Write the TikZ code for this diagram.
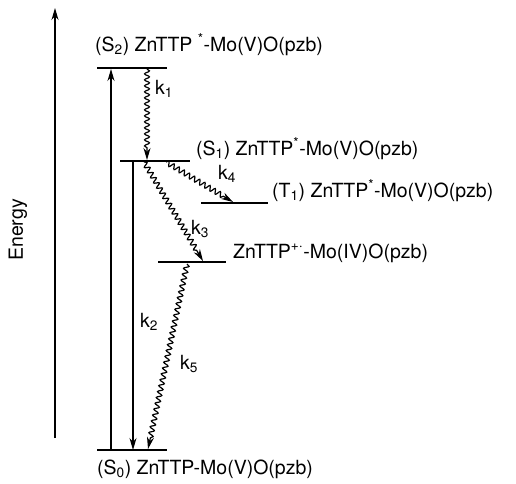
\documentclass[tikz,border=0pt]{standalone}
\usepackage{fontspec}
\setmainfont{TeX Gyre Heros}
\usetikzlibrary{decorations.pathmorphing,arrows.meta}
\begin{document}
\begin{tikzpicture}[x=1pt,y=-1pt,
  level/.style={line width=1.8pt},
  arr/.style={line width=1.2pt,-{Stealth[length=12pt,width=7pt]}},
  wav/.style={line width=1.2pt,-{Stealth[length=12pt,width=7pt]},
    decorate,decoration={snake,segment length=6pt,amplitude=2.5pt,post length=10pt}},
  lab/.style={font=\fontsize{19.5}{22}\selectfont,inner sep=0pt,anchor=base west},
  klab/.style={font=\fontsize{19.5}{22}\selectfont,inner sep=0pt}]
\useasboundingbox (0,0) rectangle (516,483);
% energy axis
\coordinate (eb) at (55,438);
\coordinate (et) at (55,8);
\draw[arr] (eb) -- (et);
\node[klab,rotate=90] (energy) at (18,230) {Energy};
% levels
\coordinate (s2l) at (97,68);  \coordinate (s2r) at (167,68);
\coordinate (s1l) at (120,161); \coordinate (s1r) at (190,161);
\coordinate (t1l) at (201,203); \coordinate (t1r) at (268,203);
\coordinate (ctl) at (158,262); \coordinate (ctr) at (226,262);
\coordinate (s0l) at (97,450);  \coordinate (s0r) at (167,450);
\draw[level] (s2l) -- (s2r);
\draw[level] (s1l) -- (s1r);
\draw[level] (t1l) -- (t1r);
\draw[level] (ctl) -- (ctr);
\draw[level] (s0l) -- (s0r);
% labels
\node[lab] (s2t) at (95,51) {(S\textsubscript{2}) ZnTTP \textsuperscript{*}-Mo(V)O(pzb)};
\node[lab] (s1t) at (196,155) {(S\textsubscript{1}) ZnTTP\textsuperscript{*}-Mo(V)O(pzb)};
\node[lab] (t1t) at (272,197) {(T\textsubscript{1}) ZnTTP\textsuperscript{*}-Mo(V)O(pzb)};
\node[lab] (ctt) at (233,258) {ZnTTP\textsuperscript{+$\cdot$}-Mo(IV)O(pzb)};
\node[lab] (s0t) at (97,474) {(S\textsubscript{0}) ZnTTP-Mo(V)O(pzb)};
% transitions
\coordinate (a0) at (111,450); \coordinate (a2) at (111,69);
\draw[arr] (a0) -- (a2);
\coordinate (k2a) at (133,161); \coordinate (k2b) at (133,450);
\draw[arr] (k2a) -- (k2b);
\coordinate (k1a) at (147,69); \coordinate (k1b) at (147,160);
\draw[wav] (k1a) -- (k1b);
\coordinate (k3a) at (144,162); \coordinate (k3b) at (203,261);
\draw[wav] (k3a) -- (k3b);
\coordinate (k4a) at (166,162); \coordinate (k4b) at (233,202);
\draw[wav] (k4a) -- (k4b);
\coordinate (k5a) at (187,264); \coordinate (k5b) at (148,449);
\draw[wav] (k5a) -- (k5b);
% rate labels
\node[klab] (lk1) at (164,89) {k\textsubscript{1}};
\node[klab] (lk2) at (149,322) {k\textsubscript{2}};
\node[klab] (lk3) at (200,229) {k\textsubscript{3}};
\node[klab] (lk4) at (227,174) {k\textsubscript{4}};
\node[klab] (lk5) at (189,364) {k\textsubscript{5}};
\end{tikzpicture}
\end{document}
